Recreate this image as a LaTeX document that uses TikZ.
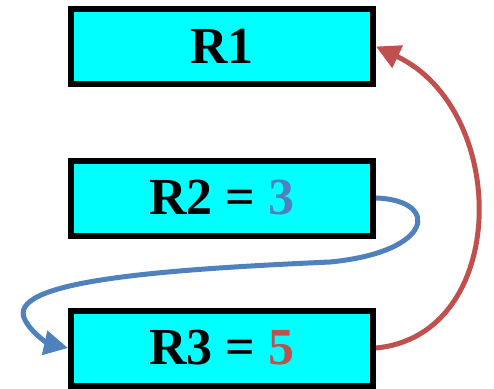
\documentclass[tikz,border=0pt]{standalone}
\usepackage{fontspec}
\setmainfont{Liberation Serif}
\usetikzlibrary{arrows.meta}
\definecolor{regblue}{HTML}{4F81BD}
\definecolor{regred}{HTML}{C0504D}
\definecolor{regfill}{HTML}{00FFFF}
\begin{document}
\begin{tikzpicture}[x=1pt,y=-1pt,
  regbox/.style={draw=black, line width=6pt, fill=regfill, rectangle,
    minimum width=302pt, minimum height=75pt, inner sep=0pt,
    font=\fontsize{52}{56}\selectfont\bfseries},
  flow/.style={line width=5pt, -{Triangle[length=24pt,width=24pt]}}]
  \useasboundingbox (0,0) rectangle (494,388);
  \node[regbox] (R1) at (222,46.5) {R1};
  \node[regbox] (R2) at (222,198) {R2 = \textcolor{regblue}{3}};
  \node[regbox] (R3) at (222,348) {R3 = \textcolor{regred}{5}};
  % value of R2 copied down into R3
  \draw[flow, regblue] (R2.east) .. controls (440,200) and (435,252) .. (330,262)
    .. controls (150,270) and (5,282) .. (25,320)
    .. controls (33,335) and (50,344) .. (R3.west);
  % value of R3 carried up into R1
  \draw[flow, regred] (R3.east) .. controls (510,335) and (510,110) .. (R1.east);
\end{tikzpicture}
\end{document}
